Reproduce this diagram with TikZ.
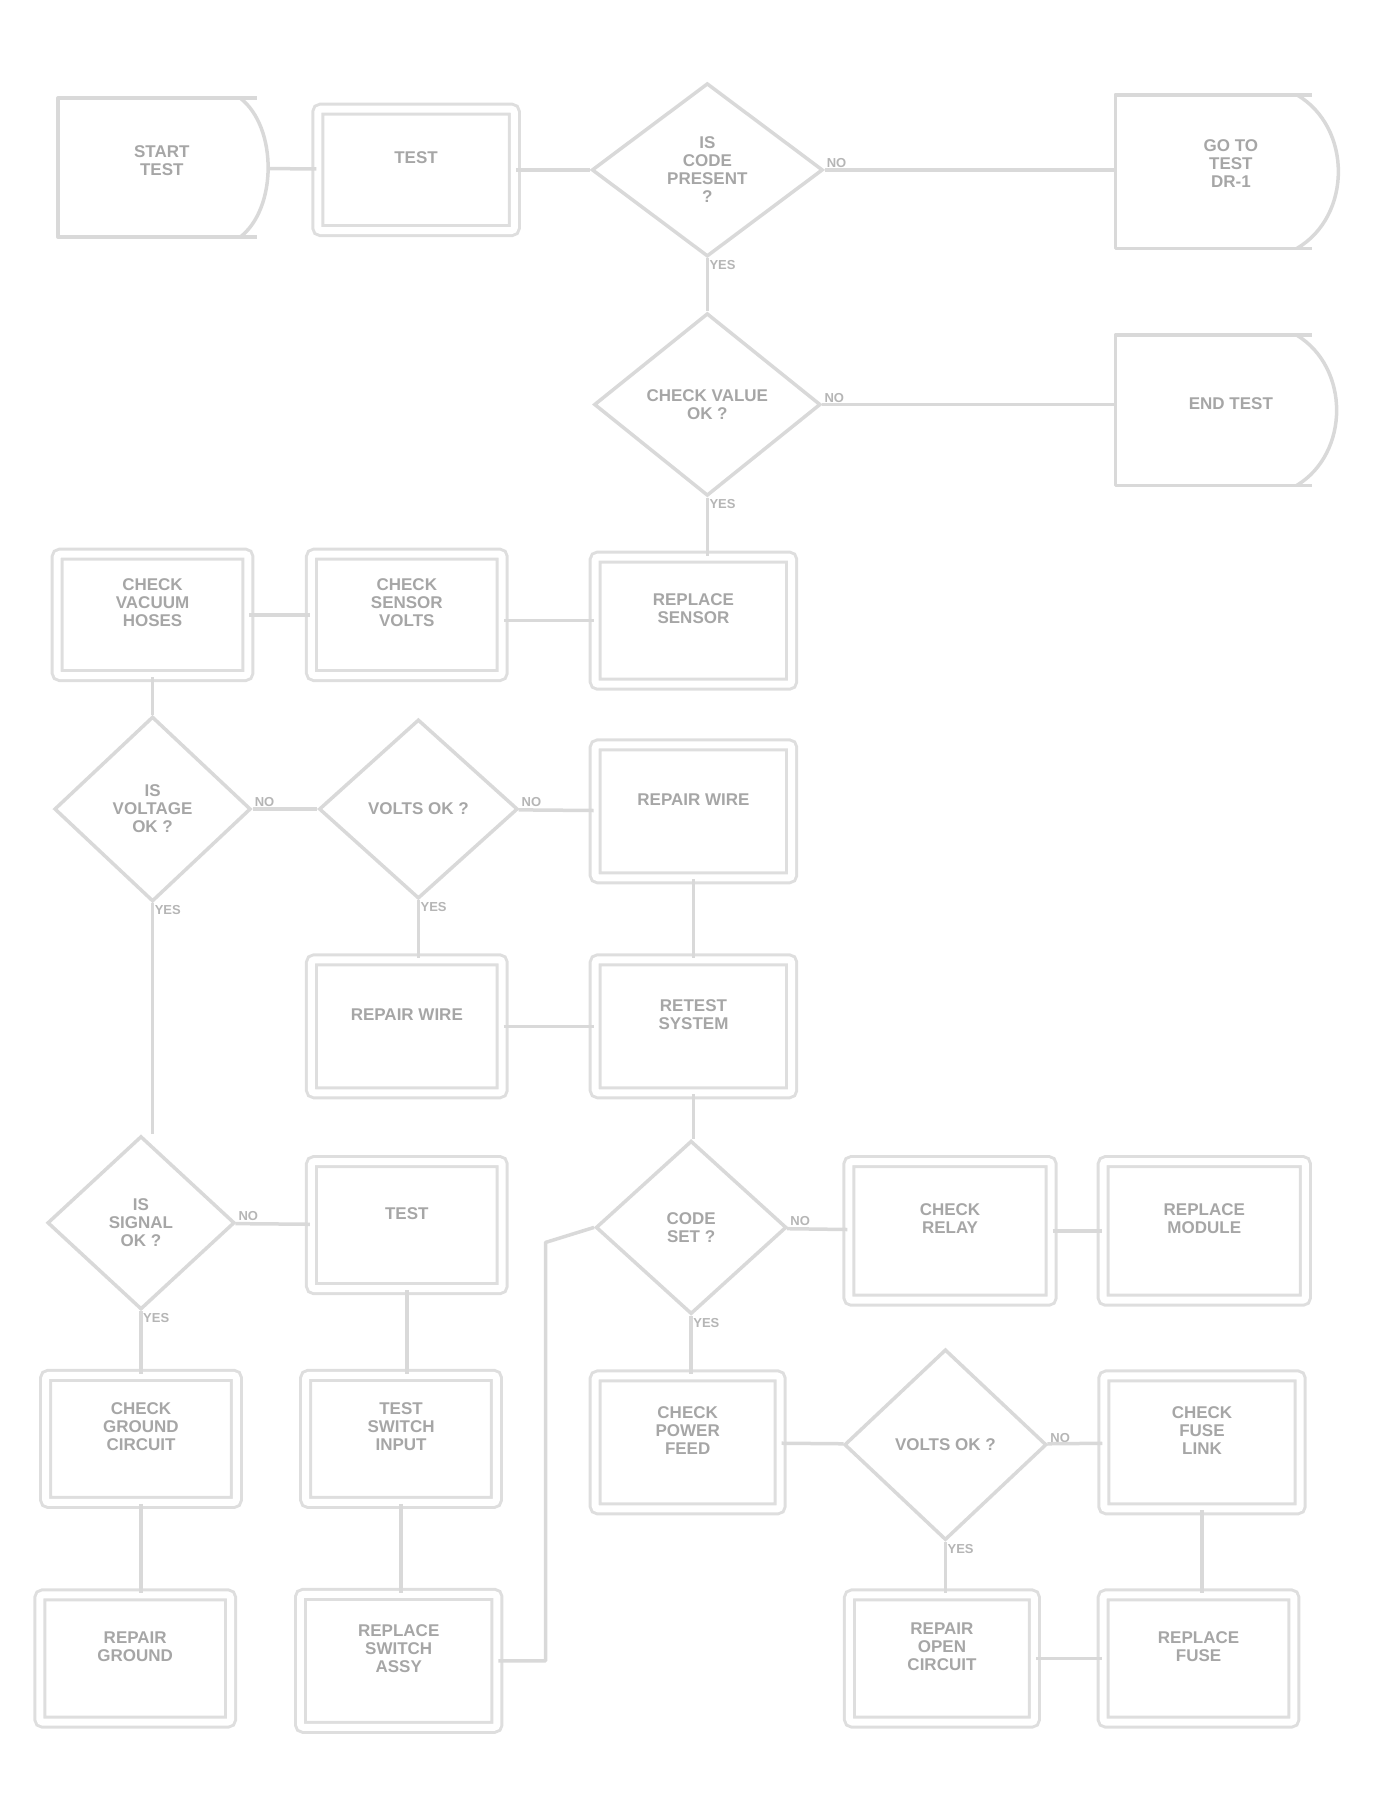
\documentclass[tikz,border=0pt]{standalone}
\usepackage{fontspec}
\setmainfont{Liberation Sans}
\usetikzlibrary{shapes.geometric}
\begin{document}
\begin{tikzpicture}[x=1.156pt,y=-1.156pt,
  ln/.style={draw=gray!30, line width=3.5pt, line join=round},
  txt/.style={text=gray!70, font=\bfseries\fontsize{17}{18}\selectfont, align=center},
  box/.style 2 args={txt, draw=gray!26, line width=3pt, double=white, double distance=7pt,
     rounded corners=3pt, minimum width={#1*1.156pt}, minimum height={#2*1.156pt}, inner sep=0pt,
     text depth=24pt},
  dia/.style 2 args={txt, diamond, draw=gray!30, line width=3.5pt,
     minimum width={#1*1.156pt}, minimum height={#2*1.156pt}, inner sep=0pt},
  term/.style 2 args={txt, minimum width={#1*1.156pt}, minimum height={#2*1.156pt}, inner sep=0pt,
     text depth=14pt},
  lab/.style={text=gray!58, font=\bfseries\fontsize{13}{14}\selectfont, inner sep=2pt}
]
\useasboundingbox (0,0) rectangle (1200,1573);

% ---- row 1
\node[term={185}{120}] (A) at (140,145) {START\\TEST};
\draw[ln] (222,85) -- (50,85) -- (50,205) -- (222,205);
\draw[ln] (208,85) .. controls (240,110) and (240,180) .. (208,205);
\node[box={170}{105}] (B) at (360,147) {TEST};
\node[dia={200}{150}] (C) at (612,147) {IS\\CODE\\PRESENT\\?};
\node[term={200}{133}] (D) at (1065,148) {GO TO\\TEST\\DR-1};
\draw[ln] (1135,82) -- (965,82) -- (965,215) -- (1135,215);
\draw[ln] (1122,82) .. controls (1170,110) and (1170,187) .. (1122,215);

% ---- row 2
\node[dia={196}{158}] (E) at (612,350) {CHECK VALUE\\OK ?};
\node[term={200}{130}] (F) at (1065,355) {END TEST};
\draw[ln] (1135,290) -- (965,290) -- (965,420) -- (1135,420);
\draw[ln] (1122,290) .. controls (1168,318) and (1168,392) .. (1122,420);

% ---- row 3
\node[box={165}{105}] (G) at (132,532) {CHECK\\VACUUM\\HOSES};
\node[box={165}{105}] (H) at (352,532) {CHECK\\SENSOR\\VOLTS};
\node[box={170}{110}] (I) at (600,537) {REPLACE\\SENSOR};

% ---- row 4
\node[dia={170}{160}] (J) at (132,700) {IS\\VOLTAGE\\OK ?};
\node[dia={172}{155}] (K) at (362,700) {VOLTS OK ?};
\node[box={170}{115}] (L) at (600,702) {REPAIR WIRE};

% ---- row 5
\node[box={165}{115}] (M) at (352,888) {REPAIR WIRE};
\node[box={170}{115}] (N) at (600,888) {RETEST\\SYSTEM};

% ---- row 6
\node[dia={162}{150}] (O) at (122,1058) {IS\\SIGNAL\\OK ?};
\node[box={165}{110}] (P) at (352,1060) {TEST};
\node[dia={165}{150}] (Q) at (598,1062) {CODE\\SET ?};
\node[box={175}{120}] (R) at (822,1065) {CHECK\\RELAY};
\node[box={175}{120}] (S) at (1042,1065) {REPLACE\\MODULE};

% ---- row 7
\node[box={165}{110}] (T) at (122,1245) {CHECK\\GROUND\\CIRCUIT};
\node[box={165}{110}] (U) at (347,1245) {TEST\\SWITCH\\INPUT};
\node[box={160}{115}] (V) at (595,1248) {CHECK\\POWER\\FEED};
\node[dia={175}{165}] (W) at (818,1250) {VOLTS OK ?};
\node[box={170}{115}] (X) at (1040,1248) {CHECK\\FUSE\\LINK};

% ---- row 8
\node[box={165}{110}] (Y) at (117,1435) {REPAIR\\GROUND};
\node[box={170}{115}] (Z) at (345,1437) {REPLACE\\SWITCH\\ASSY};
\node[box={160}{110}] (AA) at (815,1435) {REPAIR\\OPEN\\CIRCUIT};
\node[box={165}{110}] (AB) at (1037,1435) {REPLACE\\FUSE};

% ---- decision labels
\node[lab, anchor=south west] (Cy) at (C.east) {NO};
\node[lab, anchor=north west] (Cn) at (C.south) {YES};
\node[lab, anchor=south west] (Ey) at (E.east) {NO};
\node[lab, anchor=north west] (En) at (E.south) {YES};
\node[lab, anchor=south west] (Jy) at (J.east) {NO};
\node[lab, anchor=north west] (Jn) at (J.south) {YES};
\node[lab, anchor=south west] (Ky) at (K.east) {NO};
\node[lab, anchor=north west] (Kn) at (K.south) {YES};
\node[lab, anchor=south west] (Oy) at (O.east) {NO};
\node[lab, anchor=north west] (On) at (O.south) {YES};
\node[lab, anchor=south west] (Qy) at (Q.east) {NO};
\node[lab, anchor=north west] (Qn) at (Q.south) {YES};
\node[lab, anchor=south west] (Wy) at (W.east) {NO};
\node[lab, anchor=north west] (Wn) at (W.south) {YES};

% ---- connectors
\draw[ln] (A) -- (B);
\draw[ln] (B) -- (C);
\draw[ln] (C.east) -- (C.east -| D.west);
\draw[ln] (C) -- (E);
\draw[ln] (E.east) -- (E.east -| F.west);
\draw[ln] (E.south) -- (E.south |- I.north);
\draw[ln] (I.west) -- (I.west -| H.east);
\draw[ln] (H.west) -- (H.west -| G.east);
\draw[ln] (G) -- (G |- J.north);
\draw[ln] (J) -- (K);
\draw[ln] (K) -- (L);
\draw[ln] (K) -- (K |- M.north);
\draw[ln] (L) -- (N);
\draw[ln] (M) -- (N);
\draw[ln] (N) -- (N |- Q.north);
\draw[ln] (J.south) -- (J.south |- O.north);
\draw[ln] (O) -- (P);
\draw[ln] (O.south) -- (O.south |- T.north);
\draw[ln] (P) -- (P |- U.north);
\draw[ln] (T) -- (T |- Y.north);
\draw[ln] (U) -- (U |- Z.north);
\coordinate (zr) at (472,1437);
\coordinate (zq) at (472,1075);
\draw[ln] (Z.east) -- (zr) -- (zq) -- (Q.west);
\draw[ln] (Q) -- (R);
\draw[ln] (R) -- (S);
\draw[ln] (Q.south) -- (Q.south |- V.north);
\draw[ln] (V) -- (W);
\draw[ln] (W) -- (X);
\draw[ln] (W.south) -- (W.south |- AA.north);
\draw[ln] (X) -- (X |- AB.north);
\draw[ln] (AA) -- (AB);
\end{tikzpicture}
\end{document}
